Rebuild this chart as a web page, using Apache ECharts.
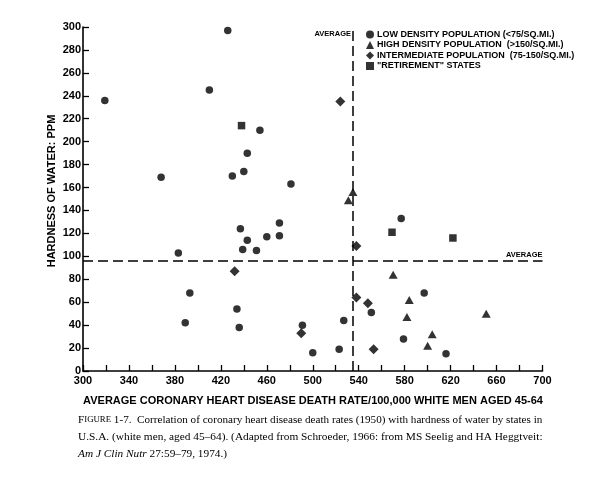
<!DOCTYPE html>
<html>
<head>
<meta charset="utf-8">
<script src="https://cdn.jsdelivr.net/npm/echarts@6/dist/echarts.min.js"></script>
<style>html,body{margin:0;padding:0;background:#fff}#c{width:600px;height:478px}</style>
</head>
<body>
<div id="c"></div>
<script>
// Low density population states (<75/sq.mi.)
const lowX = [319, 368, 426, 410, 454, 443, 440, 430, 481, 577, 597, 551, 527, 491, 579, 500, 523, 616, 383, 389, 393, 434, 436, 437, 439, 443, 451, 460, 471, 471];
const lowY = [236, 169, 297, 245, 210, 190, 174, 170, 163, 133, 68, 51, 44, 40, 28, 16, 19, 15, 103, 42, 68, 54, 38, 124, 106, 114, 105, 117, 129, 118];
// High density population states (>150/sq.mi.)
const highX = [535, 531, 570, 584, 582, 651, 604, 600];
const highY = [156, 149, 84, 62, 47, 50, 32, 22];
// Intermediate population states (75-150/sq.mi.)
const interX = [524, 538, 538, 548, 490, 553, 432];
const interY = [235, 109, 64, 59, 33, 19, 87];
// "Retirement" states
const retX = [438, 569, 622];
const retY = [214, 121, 116];
// Averages
const avgRate = 535;
const avgHardness = 96;
const seriesNames = [
  'LOW DENSITY POPULATION (<75/SQ.MI.)',
  'HIGH DENSITY POPULATION  (>150/SQ.MI.)',
  'INTERMEDIATE POPULATION  (75-150/SQ.MI.)',
  '"RETIREMENT" STATES'
];
const xTitle = 'AVERAGE CORONARY HEART DISEASE DEATH RATE/100,000 WHITE MEN AGED 45-64';
const yTitle = 'HARDNESS OF WATER: PPM';

const zip = (xs, ys) => xs.map((x, i) => [x, ys[i]]);
const SANS = '"Liberation Sans", Arial, sans-serif';
const SERIF = '"Liberation Serif", "Times New Roman", serif';

const chart = echarts.init(document.getElementById('c'), null, {renderer: 'canvas'});
const dash = {color: '#000', width: 1.5, type: [10, 5]};
chart.setOption({
  animation: false,
  backgroundColor: '#fff',
  grid: {left: 83, right: 57.5, top: 27, bottom: 107},
  legend: {
    orient: 'vertical', left: 361, top: 25, itemWidth: 8, itemHeight: 8, itemGap: 1.5,
    selectedMode: false,
    textStyle: {fontFamily: SANS, fontWeight: 'bold', fontSize: 9, color: '#000', padding: [0, 0, 0, -2]},
    data: seriesNames.map((n, i) => ({name: n, icon: ['circle', 'triangle', 'diamond', 'rect'][i]}))
  },
  xAxis: {
    type: 'value', min: 300, max: 700, interval: 20,
    axisLine: {lineStyle: {color: '#000', width: 1.6}},
    axisTick: {inside: true, length: 6, lineStyle: {color: '#000', width: 1.3}},
    splitLine: {show: false},
    axisLabel: {
      margin: 4, color: '#000', fontFamily: SANS, fontWeight: 'bold', fontSize: 11,
      showMinLabel: true, showMaxLabel: true,
      formatter: v => ((v - 300) % 40 === 0 ? String(v) : '')
    }
  },
  yAxis: {
    type: 'value', min: 0, max: 300, interval: 20,
    axisLine: {show: true, lineStyle: {color: '#000', width: 1.6}},
    axisTick: {show: true, inside: true, length: 6, lineStyle: {color: '#000', width: 1.3}},
    splitLine: {show: false},
    axisLabel: {margin: 2, color: '#000', fontFamily: SANS, fontWeight: 'bold', fontSize: 11,
      showMinLabel: true, showMaxLabel: true}
  },
  graphic: [
    {type: 'text', x: 52, y: 191, rotation: Math.PI / 2,
      style: {text: yTitle, font: 'bold 11px ' + SANS, fill: '#000', align: 'center', verticalAlign: 'middle'}},
    {type: 'text', x: 313, y: 401,
      style: {text: xTitle, font: 'bold 11px ' + SANS, fill: '#000', align: 'center', verticalAlign: 'middle'}},
    {type: 'text', x: 351, y: 34,
      style: {text: 'AVERAGE', font: 'bold 7.5px ' + SANS, fill: '#000', align: 'right', verticalAlign: 'middle'}},
    {type: 'text', x: 78, y: 420,
      style: {text: '{a|F}{b|IGURE} {a|1-7.  Correlation of coronary heart disease death rates (1950) with hardness of water by states in}',
        font: '11.15px ' + SERIF, fill: '#000', verticalAlign: 'middle',
        rich: {a: {fontFamily: SERIF, fontSize: 11.15, fill: '#000'}, b: {fontFamily: SERIF, fontSize: 8.8, fill: '#000'}}}},
    {type: 'text', x: 78, y: 437,
      style: {text: 'U.S.A. (white men, aged 45\u201364). (Adapted from Schroeder, 1966: from MS Seelig and HA Heggtveit:',
        font: '11.35px ' + SERIF, fill: '#000', verticalAlign: 'middle'}},
    {type: 'text', x: 78, y: 454,
      style: {text: '{i|Am J Clin Nutr}{a| 27:59\u201379, 1974.)}',
        font: '11.3px ' + SERIF, fill: '#000', verticalAlign: 'middle',
        rich: {i: {fontFamily: SERIF, fontStyle: 'italic', fontSize: 11.3, fill: '#000'}, a: {fontFamily: SERIF, fontSize: 11.3, fill: '#000'}}}}
  ],
  series: [
    {name: seriesNames[0], type: 'scatter', symbol: 'circle', symbolSize: 7.5, data: zip(lowX, lowY),
      itemStyle: {color: '#000'},
      markLine: {
        silent: true, symbol: 'none', animation: false,
        lineStyle: dash,
        data: [
          {yAxis: avgHardness, label: {show: true, formatter: 'AVERAGE', position: 'insideEndTop', distance: [0, 2],
            color: '#000', fontFamily: SANS, fontWeight: 'bold', fontSize: 7.5}},
          {xAxis: avgRate, label: {show: false}}
        ]
      }},
    {name: seriesNames[1], type: 'scatter', symbol: 'triangle', symbolSize: [9, 8], data: zip(highX, highY),
      itemStyle: {color: '#000'}},
    {name: seriesNames[2], type: 'scatter', symbol: 'diamond', symbolSize: [10, 10], data: zip(interX, interY),
      itemStyle: {color: '#000'}},
    {name: seriesNames[3], type: 'scatter', symbol: 'rect', symbolSize: 7.5, data: zip(retX, retY),
      itemStyle: {color: '#000'}}
  ]
});
</script>
</body>
</html>
